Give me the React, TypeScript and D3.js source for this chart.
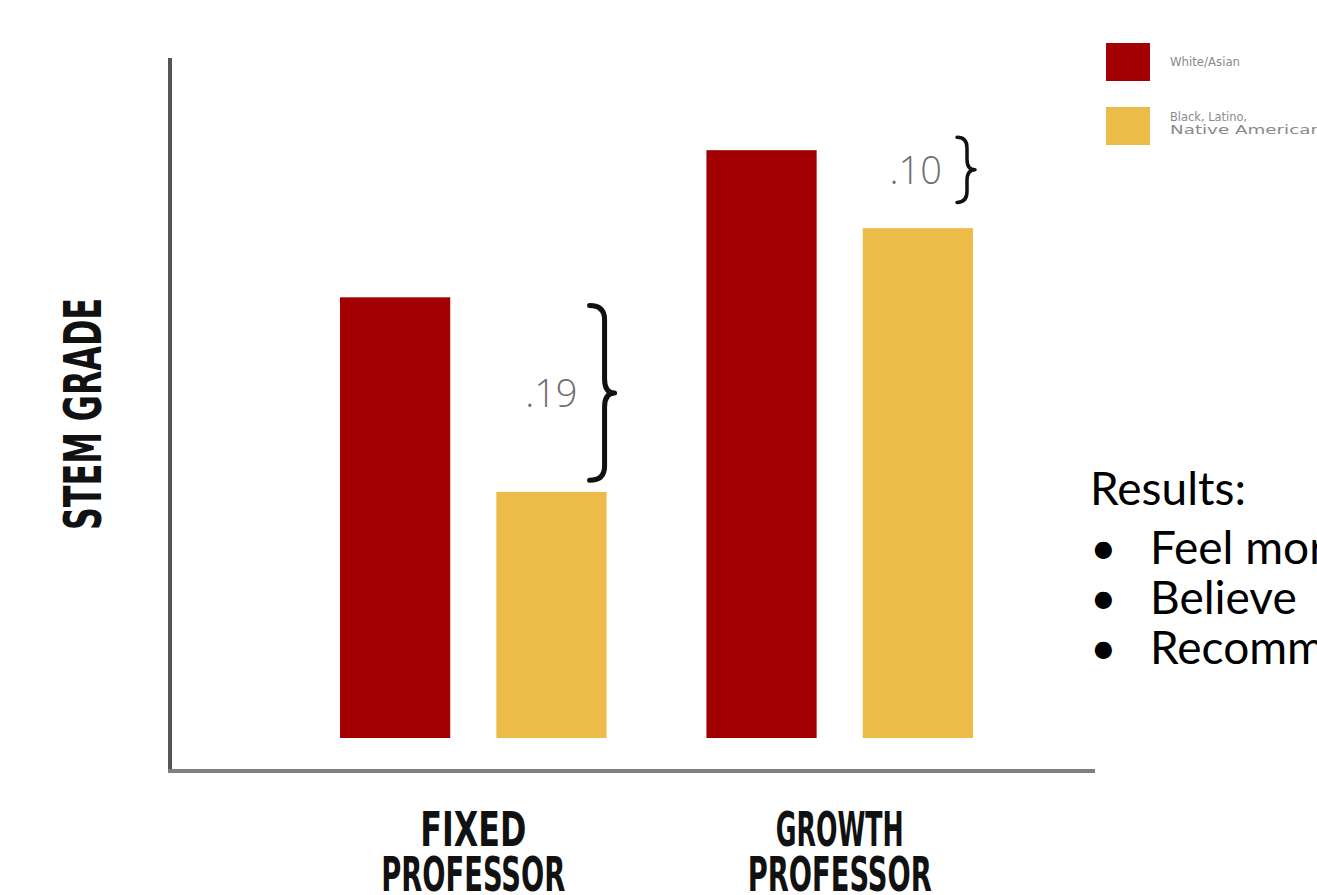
import React from "react";
import * as d3 from "d3";

const groups = ["FIXED\nPROFESSOR", "GROWTH\nPROFESSOR"];
const series = ["White/Asian", "Black, Latino,\nNative American"];
const colors = ["#A30004", "#EDBB47"];
// STEM grade (schematic scale 0-100)
const whiteAsian = [65, 86.7];
const blackLatino = [36.3, 75.2];
const gapLabels = [".19", ".10"];
const bracketTop = [63.8, 88.6];
const bracketBottom = [38.0, 79.0];
const resultLines = ["Feel more", "Believe", "Recommend"];

const W = 1317;
const H = 895;

function bracePath(xv: number, y1: number, y2: number, e: number, t: number) {
  const ym = (y1 + y2) / 2;
  const r = Math.min(14, (y2 - y1) / 6);
  return [
    `M${xv - e},${y1}`,
    `Q${xv},${y1} ${xv},${y1 + r}`,
    `L${xv},${ym - r}`,
    `Q${xv},${ym} ${xv + t},${ym}`,
    `Q${xv},${ym} ${xv},${ym + r}`,
    `L${xv},${y2 - r}`,
    `Q${xv},${y2} ${xv - e},${y2}`,
  ].join(" ");
}

export default function App() {
  const y = d3.scaleLinear().domain([0, 100]).range([738, 60]);
  const x0 = d3.scaleBand().domain(groups).range([340, 973]).paddingInner(0.2725).paddingOuter(0);
  const x1 = d3.scaleBand().domain(series).range([0, x0.bandwidth()]).paddingInner(0.295).paddingOuter(0);
  const values = [whiteAsian, blackLatino];

  const condensed = "'DejaVu Sans Condensed', 'DejaVu Sans', sans-serif";
  const body = "Lato, 'Open Sans', sans-serif";

  return (
    <div style={{ position: "fixed", left: 0, top: 0 }}>
      <svg width={W} height={H} style={{ display: "block", background: "#fff", overflow: "hidden" }}>
        {/* axes */}
        <line x1={170} y1={58} x2={170} y2={772} stroke="#555" strokeWidth={4} />
        <line x1={168} y1={771} x2={1095} y2={771} stroke="#7f7f7f" strokeWidth={4} />

        {/* bars */}
        {groups.map((g, gi) =>
          series.map((s, si) => (
            <rect
              key={g + s}
              x={(x0(g) as number) + (x1(s) as number)}
              y={y(values[si][gi])}
              width={x1.bandwidth()}
              height={y(0) - y(values[si][gi])}
              fill={colors[si]}
            />
          ))
        )}

        {/* brackets and gap labels */}
        {groups.map((g, gi) => {
          const right = (x0(g) as number) + (x1(series[1]) as number) + x1.bandwidth();
          const big = gi === 0;
          const xv = right - (big ? 2 : 6);
          const yt = y(bracketTop[gi]);
          const yb = y(bracketBottom[gi]);
          return (
            <g key={"br" + g}>
              <path
                d={bracePath(xv, yt, yb, big ? 15 : 10, big ? 10 : 8)}
                fill="none"
                stroke="#111"
                strokeWidth={big ? 5 : 3.5}
                strokeLinecap="round"
                strokeLinejoin="round"
              />
              <text
                x={xv - (big ? 27 : 25)}
                y={(yt + yb) / 2 + 14}
                textAnchor="end"
                fontFamily="'Open Sans', sans-serif"
                fontWeight={300}
                fontSize={38}
                fill="#6f6f6f"
              >
                {gapLabels[gi]}
              </text>
            </g>
          );
        })}

        {/* y axis title */}
        <text
          transform="translate(101,414) rotate(-90)"
          textAnchor="middle"
          fontFamily={condensed}
          fontWeight="bold"
          fontSize={52}
          fill="#111"
          textLength={232}
          lengthAdjust="spacingAndGlyphs"
        >
          STEM GRADE
        </text>

        {/* group labels */}
        {groups.map((g) => {
          const cx = (x0(g) as number) + x0.bandwidth() / 2;
          const [l1, l2] = g.split("\n");
          return (
            <g key={"lab" + g} fontFamily={condensed} fontWeight="bold" fontSize={48} fill="#111" textAnchor="middle">
              <text x={cx} y={846} textLength={l1 === "FIXED" ? 106 : 128} lengthAdjust="spacingAndGlyphs">
                {l1}
              </text>
              <text x={cx} y={891} textLength={184} lengthAdjust="spacingAndGlyphs">
                {l2}
              </text>
            </g>
          );
        })}

        {/* legend */}
        {series.map((s, si) => {
          const ly = si === 0 ? 43 : 107;
          const lines = s.split("\n");
          return (
            <g key={"lg" + s}>
              <rect x={1106} y={ly} width={44} height={38} fill={colors[si]} />
              {lines.map((ln, li) => (
                <text
                  key={ln}
                  x={1170}
                  y={lines.length === 1 ? ly + 23 : ly + 14 + li * 13}
                  fontFamily="'DejaVu Sans', sans-serif"
                  fontSize={12}
                  fill="#8a8a8a"
                  textLength={lines.length === 1 ? 70 : li === 0 ? 77 : 152}
                  lengthAdjust="spacingAndGlyphs"
                >
                  {ln}
                </text>
              ))}
            </g>
          );
        })}

        {/* results text */}
        <g fontFamily={body} fontSize={46} fill="#000">
          <text x={1090} y={505}>Results:</text>
          {resultLines.map((t, i) => (
            <g key={t}>
              <text x={1090} y={564 + i * 50}>•</text>
              <text x={1150} y={564 + i * 50}>{t}</text>
            </g>
          ))}
        </g>
      </svg>
    </div>
  );
}
